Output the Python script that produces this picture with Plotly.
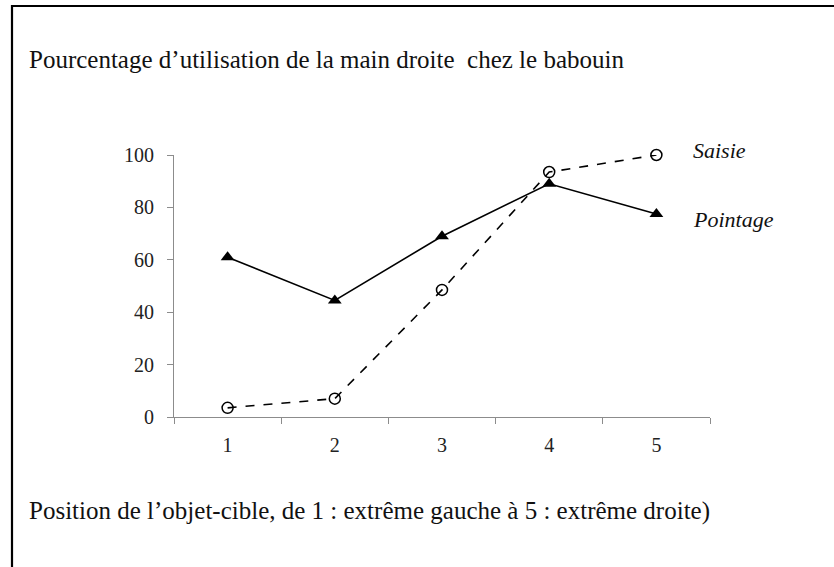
import plotly.graph_objects as go

# ---- data ----
positions = ["1", "2", "3", "4", "5"]
pointage = [61, 44.5, 69, 89, 77.5]
saisie = [3.5, 7, 48.5, 93.5, 100]
y_ticks = [0, 20, 40, 60, 80, 100]

title_text = "Pourcentage d\u2019utilisation de la main droite  chez le babouin"
xlabel_text = "Position de l\u2019objet-cible, de 1 : extr\u00eame gauche \u00e0 5 : extr\u00eame droite)"

W, H = 834, 567
L, R, T, B = 174, 124, 155, 150
PW, PH = W - L - R, H - T - B

def px(xp):
    return (xp - L) / PW

def py(yp):
    return (H - B - yp) / PH

SERIF = "Liberation Serif, Times New Roman, serif"

fig = go.Figure()
fig.add_trace(go.Scatter(
    x=positions, y=pointage, mode="lines+markers", name="Pointage",
    line=dict(color="black", width=1.6),
    marker=dict(symbol="triangle-up", size=12, color="black"),
    cliponaxis=False,
))
fig.add_trace(go.Scatter(
    x=positions, y=saisie, mode="lines+markers", name="Saisie",
    line=dict(color="black", width=1.6, dash="dash"),
    marker=dict(symbol="circle-open", size=11, color="black", line=dict(width=1.5)),
    cliponaxis=False,
))

fig.update_layout(
    width=W, height=H,
    margin=dict(l=L, r=R, t=T, b=B, autoexpand=False),
    paper_bgcolor="white", plot_bgcolor="white",
    showlegend=False,
    font=dict(family=SERIF, color="#222222"),
)
fig.update_xaxes(
    type="category", range=[-0.5, 4.5], tickson="boundaries",
    ticks="outside", ticklen=6, tickcolor="#8c8c8c", tickwidth=1,
    showline=True, linecolor="#8c8c8c", linewidth=1.2,
    showgrid=False, zeroline=False, ticklabelstandoff=10,
    tickfont=dict(family=SERIF, size=20, color="#222222"),
)
fig.update_yaxes(
    range=[0, 100], tickvals=y_ticks,
    ticks="outside", ticklen=6, tickcolor="#8c8c8c", tickwidth=1,
    showline=True, linecolor="#8c8c8c", linewidth=1.2,
    showgrid=False, zeroline=False, ticklabelstandoff=9,
    tickfont=dict(family=SERIF, size=20, color="#222222"),
)

anns = [
    dict(text=title_text, xref="paper", yref="paper", x=px(27), y=py(59),
         xanchor="left", yanchor="middle", showarrow=False,
         font=dict(family=SERIF, size=25, color="#111111")),
    dict(text=xlabel_text, xref="paper", yref="paper", x=px(27), y=py(511),
         xanchor="left", yanchor="middle", showarrow=False,
         font=dict(family=SERIF, size=25, color="#111111")),
    dict(text="<i>Saisie</i>", xref="paper", yref="paper", x=px(691), y=py(150),
         xanchor="left", yanchor="middle", showarrow=False,
         font=dict(family=SERIF, size=22, color="#111111")),
    dict(text="<i>Pointage</i>", xref="paper", yref="paper", x=px(691), y=py(219),
         xanchor="left", yanchor="middle", showarrow=False,
         font=dict(family=SERIF, size=22, color="#111111")),
]
fig.update_layout(annotations=anns)

fig.update_layout(shapes=[
    dict(type="line", xref="paper", yref="paper", x0=px(11), x1=px(W + 5), y0=py(6), y1=py(6),
         line=dict(color="black", width=2.2)),
    dict(type="line", xref="paper", yref="paper", x0=px(12), x1=px(12), y0=py(5), y1=py(H + 5),
         line=dict(color="black", width=2.2)),
])

fig.write_html(
    "out.html",
    config={"displayModeBar": False},
    post_script="document.body.style.margin='0px';document.body.style.overflow='hidden';",
)
